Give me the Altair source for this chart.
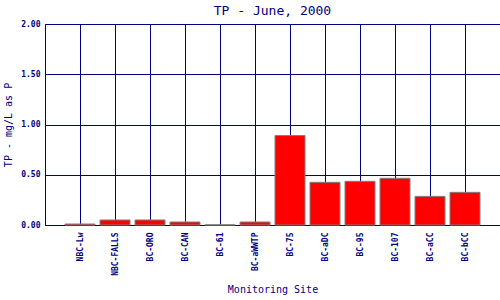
import altair as alt
import pandas as pd

sites = ["NBC-Lw", "NBC-FALLS", "BC-ORO", "BC-CAN", "BC-61", "BC-aWWTP",
         "BC-75", "BC-aDC", "BC-95", "BC-107", "BC-aCC", "BC-bCC"]
tp = [0.01, 0.05, 0.05, 0.03, 0.002, 0.03, 0.89, 0.425, 0.435, 0.465, 0.285, 0.325]

df = pd.DataFrame({"site": sites, "tp": tp})

NAVY = "#000080"
FONT = "DejaVu Sans Mono"

chart = alt.Chart(df).mark_bar(
    size=30, color="#ff0000", stroke="#808080", strokeWidth=1
).encode(
    x=alt.X("site:N", sort=sites, scale=alt.Scale(type="point", padding=1),
            axis=alt.Axis(title="Monitoring Site", labelAngle=-90, labelAlign="right",
                          labelBaseline="middle", labelPadding=7, ticks=False,
                          grid=True, gridColor=NAVY, gridOpacity=1, gridWidth=1,
                          domainColor=NAVY, labelColor=NAVY, labelFont=FONT,
                          labelFontSize=8, labelFontWeight="bold",
                          titleColor=NAVY, titleFont=FONT, titleFontSize=10,
                          titleFontWeight="normal", titlePadding=9)),
    y=alt.Y("tp:Q", scale=alt.Scale(domain=[0, 2]),
            axis=alt.Axis(title="TP - mg/L as P", values=[0, 0.5, 1.0, 1.5, 2.0],
                          format=".2f", ticks=False, labelPadding=5,
                          grid=True, gridColor=NAVY, gridOpacity=1, gridWidth=1,
                          domainColor=NAVY, labelColor=NAVY, labelFont=FONT,
                          labelFontSize=8, labelFontWeight="bold",
                          titleColor=NAVY, titleFont=FONT, titleFontSize=10,
                          titleFontWeight="normal", titlePadding=7)),
).properties(
    width=455, height=201,
    title=alt.TitleParams("TP - June, 2000", font=FONT, fontSize=13,
                          fontWeight="normal", color=NAVY, offset=2),
    autosize=alt.AutoSizeParams(type="none"),
    padding={"left": 45, "top": 24, "right": 0, "bottom": 75},
    background="white",
).configure_view(stroke=NAVY, strokeWidth=1)

chart.save("out.html", embed_options={"renderer": "svg", "actions": False})
